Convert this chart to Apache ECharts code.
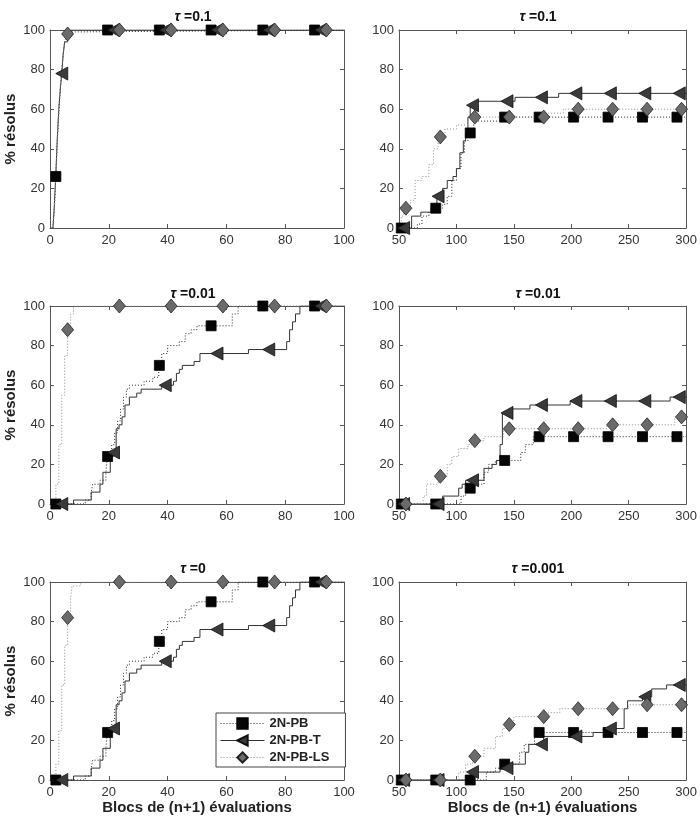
<!DOCTYPE html>
<html>
<head>
<meta charset="utf-8">
<title>Profils de données</title>
<script src="https://cdn.jsdelivr.net/npm/echarts@6/dist/echarts.min.js"></script>
<style>
    html, body { margin: 0; padding: 0; background: #fff; }
    #main { width: 700px; height: 835px; }
</style>
</head>
<body>
<div id="main"></div>
<script>
// Method names (legend)
var methodNames = ['2N-PB', '2N-PB-T', '2N-PB-LS'];

// Panel titles (tau values)
var tauLabels = ['0.1', '0.1', '0.01', '0.01', '0', '0.001'];

// Tick labels / axis ranges
var xTicksLeft = [0, 20, 40, 60, 80, 100];
var xTicksRight = [50, 100, 150, 200, 250, 300];
var yTicks = [0, 20, 40, 60, 80, 100];

// Marker positions along x (same for every panel of a column)
var markLeftPB = [2, 19.6, 37.2, 54.8, 72.4, 90];
var markLeftT = [4, 21.6, 39.2, 56.8, 74.4, 92];
var markLeftLS = [6, 23.6, 41.2, 58.8, 76.4, 94];
var markRightPB = [52, 82, 112, 142, 172, 202, 232, 262, 292];
var markRightT = [54, 84, 114, 144, 174, 204, 234, 264, 294];
var markRightLS = [56, 86, 116, 146, 176, 206, 236, 266, 296];

// Step curves [x, % solved] : value holds from x until next point
// tau = 0.1, left
var p1PB = [[0, 0], [1, 0], [1.5, 10], [2, 26], [2.5, 44], [3, 58], [3.5, 70], [4, 80], [4.5, 88], [5, 94], [5.5, 97], [6, 99], [7, 100], [100, 100]];
var p1T = [[0, 0], [1, 0], [1.5, 12], [2, 28], [2.5, 46], [3, 60], [3.5, 70], [4, 78], [4.5, 88], [5, 94], [6, 98], [7, 100], [100, 100]];
var p1LS = [[0, 0], [1, 0], [1.5, 12], [2, 28], [2.5, 46], [3, 62], [3.5, 72], [4, 80], [4.5, 88], [5, 94], [6, 98], [7, 100], [100, 100]];
// tau = 0.1, right
var p2PB = [[50, 0], [66, 2], [70, 6], [76, 8], [80, 10], [88, 12], [92, 16], [96, 24], [100, 30], [104, 38], [107, 44], [110, 48], [115, 54], [140, 56], [300, 56]];
var p2T = [[50, 0], [61, 6], [69, 8], [78, 10], [80, 12], [83, 16], [88, 20], [92, 24], [97, 26], [100, 30], [103, 38], [106, 44], [108, 48], [110, 56], [112, 62], [117, 64], [151, 66], [189, 68], [300, 68]];
var p2LS = [[50, 0], [52, 6], [54, 10], [60, 14], [64, 24], [70, 26], [76, 32], [80, 40], [84, 46], [90, 50], [100, 52], [110, 56], [178, 58], [193, 60], [300, 60]];
// tau = 0.01, left
var p3PB = [[0, 0], [9, 0], [12, 2], [14, 6], [14.5, 10], [17, 12], [19, 16], [19.5, 24], [21, 30], [22, 36], [23, 42], [24, 48], [25, 54], [26, 58], [27, 60], [32, 62], [35, 64], [37, 70], [38, 76], [40, 80], [44, 82], [46, 86], [48, 88], [50, 90], [62, 96], [64, 100], [100, 100]];
var p3T = [[0, 0], [8, 2], [14, 6], [17, 10], [18, 16], [20.5, 24], [21.5, 26], [22.5, 38], [23.5, 40], [24.5, 44], [25.5, 50], [27, 54], [29.5, 56], [31, 58], [38, 60], [42, 62], [43, 66], [44, 68], [45, 70], [49, 72], [51, 76], [67.5, 78], [80.5, 82], [81.5, 88], [82.5, 92], [83.5, 96], [85, 100], [100, 100]];
var p3LS = [[0, 0], [1, 0], [2, 10], [3, 30], [4, 55], [5, 75], [6, 88], [7, 96], [8, 100], [100, 100]];
// tau = 0.01, right
var p4PB = [[50, 0], [104, 4], [108, 8], [116, 10], [124, 16], [128, 20], [134, 22], [156, 26], [160, 30], [167, 34], [300, 34]];
var p4T = [[50, 0], [88, 4], [102, 8], [105, 10], [108, 12], [124, 18], [131, 20], [135, 22], [138, 30], [140, 46], [146, 48], [164, 50], [199, 52], [286, 54], [300, 54]];
var p4LS = [[50, 0], [71, 4], [74, 10], [84, 14], [92, 20], [96, 24], [102, 28], [110, 30], [113, 32], [124, 34], [141, 38], [231, 40], [290, 44], [300, 44]];
// tau = 0, left
var p5PB = [[0, 0], [9, 0], [12, 2], [14, 6], [14.5, 10], [17, 12], [19, 16], [19.5, 24], [21, 30], [22, 36], [23, 42], [24, 48], [25, 54], [26, 58], [27, 60], [32, 62], [35, 64], [37, 70], [38, 76], [40, 80], [44, 82], [46, 86], [48, 88], [50, 90], [62, 96], [64, 100], [100, 100]];
var p5T = [[0, 0], [8, 2], [14, 6], [17, 10], [18, 16], [20.5, 24], [21.5, 26], [22.5, 38], [23.5, 40], [24.5, 44], [25.5, 50], [27, 54], [29.5, 56], [31, 58], [38, 60], [42, 62], [43, 66], [44, 68], [45, 70], [49, 72], [51, 76], [67.5, 78], [80.5, 82], [81.5, 88], [82.5, 92], [83.5, 96], [85, 100], [100, 100]];
var p5LS = [[0, 0], [1, 0], [2, 8], [3, 25], [4, 48], [5, 68], [6, 82], [7, 92], [7.5, 98], [10.5, 100], [100, 100]];
// tau = 0.001, right
var p6PB = [[50, 0], [126, 4], [134, 6], [140, 8], [155, 14], [159, 18], [168, 24], [300, 24]];
var p6T = [[50, 0], [108, 2], [112, 4], [138, 6], [146, 8], [160, 14], [163, 18], [176, 22], [219, 24], [229, 26], [246, 36], [249, 40], [262, 42], [270, 46], [283, 48], [300, 48]];
var p6LS = [[50, 0], [102, 4], [108, 8], [114, 12], [124, 16], [134, 22], [140, 26], [144, 28], [150, 32], [180, 34], [190, 36], [250, 38], [300, 38]];

var curves = [
    [p1PB, p1T, p1LS],
    [p2PB, p2T, p2LS],
    [p3PB, p3T, p3LS],
    [p4PB, p4T, p4LS],
    [p5PB, p5T, p5LS],
    [p6PB, p6T, p6LS]
];

// layout
var FONT = '"Liberation Sans", Arial, Helvetica, sans-serif';
var colLeft = [50, 399];
var colWidth = [294, 292];
var rowTop = [30, 306, 582];
var rowHeight = 198;
var titleCenter = [193, 538];
var titleTop = [10, 287, 562];

// styles for each method
var lineStyles = [
    { color: '#222', width: 1, type: [1, 2] },
    { color: '#333', width: 1, type: 'solid' },
    { color: '#8a8a8a', width: 1, type: [1, 2] }
];
var symbols = ['rect', 'path://M0,6 L10,0 L10,12 Z', 'diamond'];
var symbolSizes = [10, [12, 13], [12, 14]];
var itemStyles = [
    { color: '#050505', borderColor: '#000', borderWidth: 0.8, opacity: 1 },
    { color: '#3a3a3a', borderColor: '#111', borderWidth: 0.8, opacity: 1 },
    { color: '#6a6a6a', borderColor: '#222', borderWidth: 0.8, opacity: 1 }
];

// value of a step curve at x
function stepAt(curve, x) {
    var y = 0;
    for (var i = 0; i < curve.length; i++) {
        if (curve[i][0] <= x) y = curve[i][1];
    }
    return y;
}

var grids = [], xAxes = [], yAxes = [], series = [], titles = [];

for (var p = 0; p < 6; p++) {
    var col = p % 2, row = Math.floor(p / 2);
    var xt = col === 0 ? xTicksLeft : xTicksRight;
    var marks = col === 0 ? [markLeftPB, markLeftT, markLeftLS] : [markRightPB, markRightT, markRightLS];

    grids.push({ left: colLeft[col], top: rowTop[row], width: colWidth[col], height: rowHeight });

    titles.push({
        text: '{t|τ} =' + tauLabels[p],
        left: titleCenter[col], top: titleTop[row], textAlign: 'center', padding: 0,
        textStyle: {
            fontFamily: FONT, fontSize: 14, fontWeight: 'bold', color: '#111',
            rich: { t: { fontFamily: FONT, fontSize: 14, fontWeight: 'bold', fontStyle: 'italic', color: '#111' } }
        }
    });

    var axisLine = { show: true, onZero: false, lineStyle: { color: '#555', width: 1 } };
    var tick = { show: true, inside: true, length: 4, lineStyle: { color: '#555' } };
    var label = { color: '#333', fontSize: 13, fontFamily: FONT };

    // bottom + top x axes
    xAxes.push({
        gridIndex: p, type: 'value', position: 'bottom',
        min: xt[0], max: xt[xt.length - 1], interval: xt[1] - xt[0],
        axisLine: axisLine, axisTick: tick, splitLine: { show: false },
        axisLabel: Object.assign({ margin: 6 }, label),
        name: row === 2 ? 'Blocs de (n+1) évaluations' : '',
        nameLocation: 'middle', nameGap: 14,
        nameTextStyle: { fontFamily: FONT, fontSize: 15, fontWeight: 'bold', color: '#222' }
    });
    xAxes.push({
        gridIndex: p, type: 'value', position: 'top',
        min: xt[0], max: xt[xt.length - 1], interval: xt[1] - xt[0],
        axisLine: axisLine, axisTick: tick, splitLine: { show: false },
        axisLabel: { show: false }
    });
    // left + right y axes
    yAxes.push({
        gridIndex: p, type: 'value', position: 'left',
        min: yTicks[0], max: yTicks[yTicks.length - 1], interval: yTicks[1] - yTicks[0],
        axisLine: axisLine, axisTick: tick, splitLine: { show: false },
        axisLabel: Object.assign({ margin: 5 }, label),
        name: col === 0 ? '% résolus' : '',
        nameLocation: 'middle', nameGap: 32,
        nameTextStyle: { fontFamily: FONT, fontSize: 15, fontWeight: 'bold', color: '#222' }
    });
    yAxes.push({
        gridIndex: p, type: 'value', position: 'right',
        min: yTicks[0], max: yTicks[yTicks.length - 1], interval: yTicks[1] - yTicks[0],
        axisLine: axisLine, axisTick: tick, splitLine: { show: false },
        axisLabel: { show: false }
    });

    // step lines
    for (var m = 0; m < 3; m++) {
        series.push({
            type: 'line', name: methodNames[m],
            xAxisIndex: 2 * p, yAxisIndex: 2 * p,
            data: curves[p][m], step: 'end',
            symbol: symbols[m], symbolSize: symbolSizes[m], showSymbol: false,
            lineStyle: lineStyles[m], itemStyle: itemStyles[m],
            silent: true, z: 2
        });
    }
    // markers
    for (var m = 0; m < 3; m++) {
        var pts = marks[m].map(function (x) { return [x, stepAt(curves[p][m], x)]; });
        series.push({
            type: 'scatter', name: methodNames[m] + ' ',
            xAxisIndex: 2 * p, yAxisIndex: 2 * p,
            data: pts, symbol: symbols[m], symbolSize: symbolSizes[m],
            itemStyle: itemStyles[m], clip: false, silent: true, z: 3
        });
    }
}

var chart = echarts.init(document.getElementById('main'));
chart.setOption({
    animation: false,
    backgroundColor: '#fff',
    title: titles,
    grid: grids,
    xAxis: xAxes,
    yAxis: yAxes,
    legend: {
        data: methodNames,
        orient: 'vertical',
        left: 216, top: 713,
        itemWidth: 44, itemHeight: 13, itemGap: 4,
        padding: [4, 16, 3, 4],
        backgroundColor: '#fff',
        borderColor: '#444', borderWidth: 1,
        lineStyle: { width: 1 },
        textStyle: { fontFamily: FONT, fontSize: 13, fontWeight: 'bold', color: '#222' }
    },
    series: series
});
</script>
</body>
</html>
